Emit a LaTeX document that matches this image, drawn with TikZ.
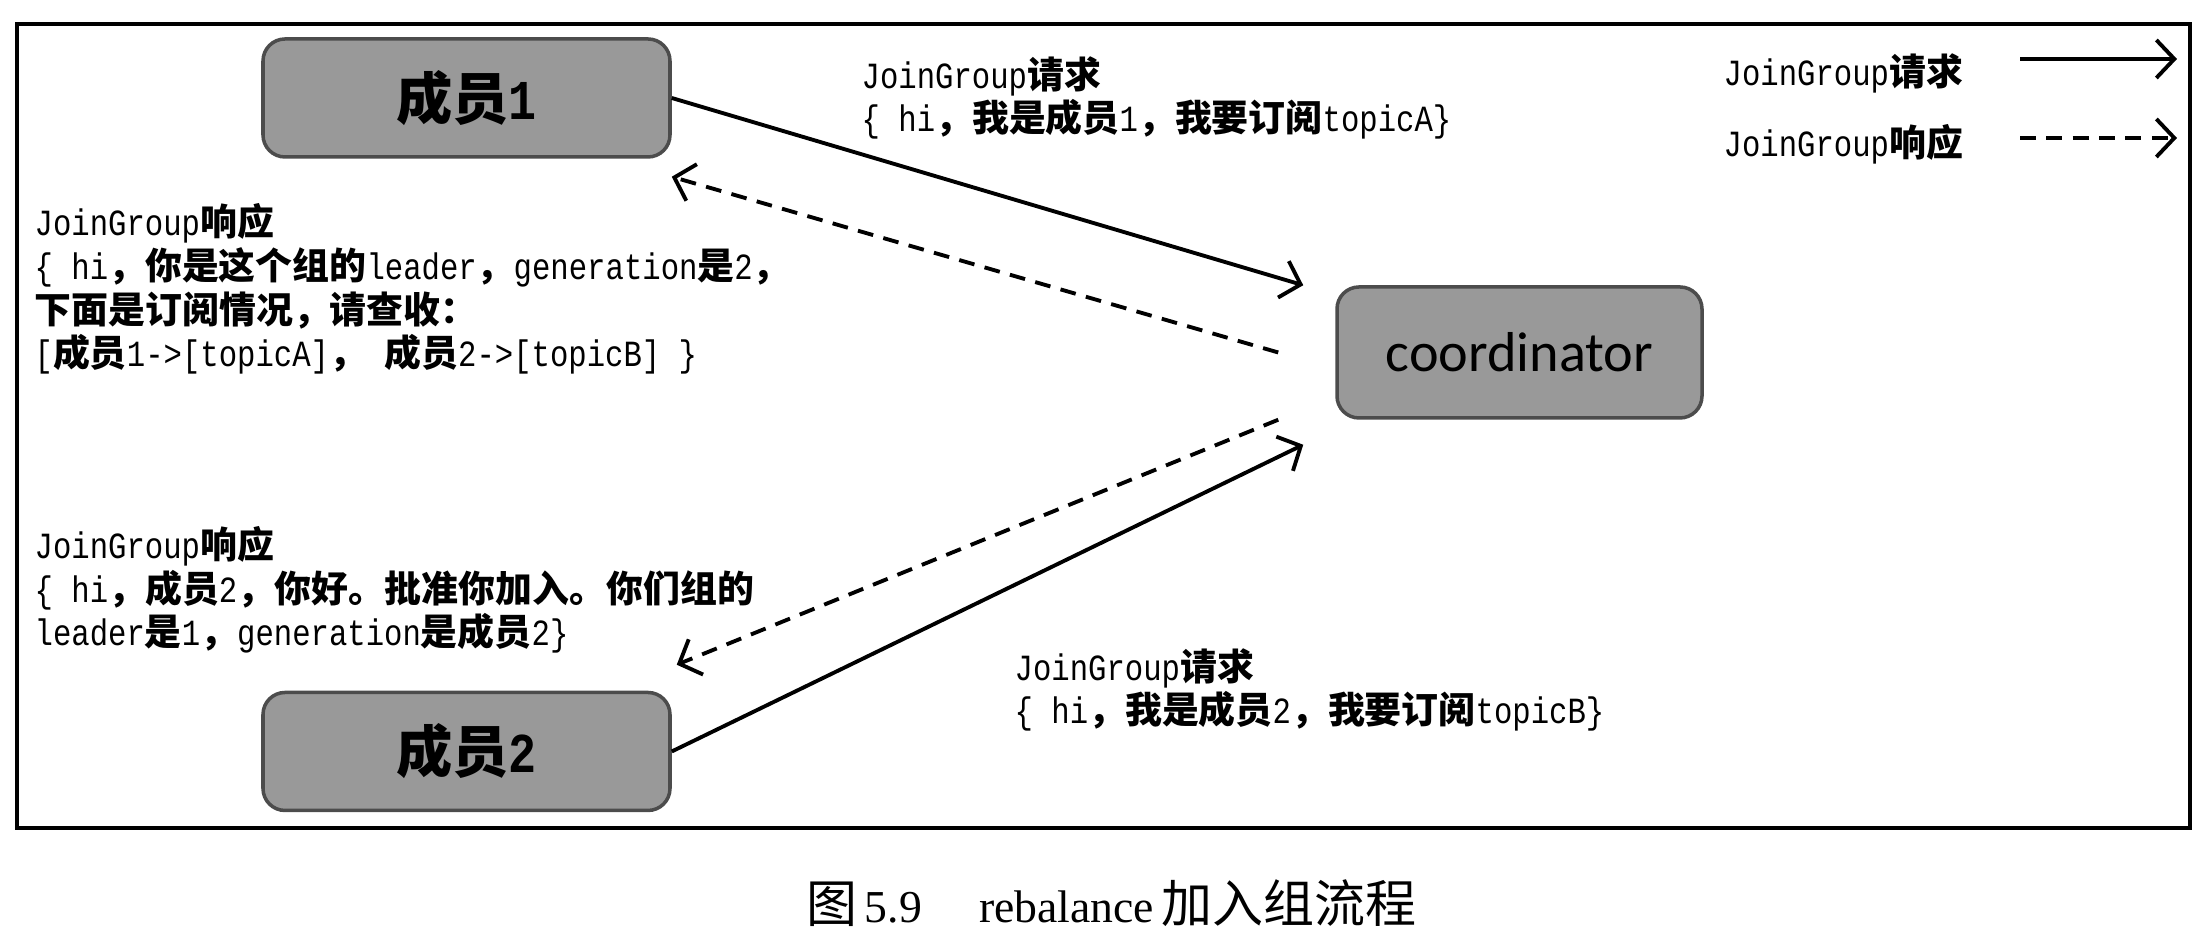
\documentclass[tikz,border=0pt]{standalone}
\usepackage{fontspec}
\usepackage{tikz}
\usetikzlibrary{arrows.meta,positioning}
\setmainfont{Liberation Mono}[FakeStretch=0.83]
\newfontfamily\cjk{Noto Sans CJK SC}
\newfontfamily\calfont{Carlito}
\newfontfamily\serfont{Liberation Serif}
\newcommand{\zh}[1]{{\cjk\bfseries #1}}

\begin{document}
\begin{tikzpicture}[
    box/.style={draw=black!70, fill=black!40, line width=1pt, rounded corners=0.22cm,
        minimum width=4.07cm, minimum height=1.18cm, inner sep=0pt,
        font={\fontsize{16pt}{16pt}\selectfont\bfseries}},
    txt/.style={anchor=base west, align=left, inner sep=0pt,
        font={\fontsize{10.5pt}{12.5pt}\selectfont}},
    req/.style={->, line width=1.1pt},
    resp/.style={->, line width=1.1pt, dash pattern=on 4.5pt off 3pt},
    >={Straight Barb[length=1.8mm,width=3.8mm]}
]

    % Frame
    \useasboundingbox (0,0) rectangle (22.1,9.48);
    \draw[line width=1pt] (0.17,1.2) rectangle (21.9,9.24);

    % Boxes
    \node[box] (m1) at (4.665,8.50) {\zh{成员}1};
    \node[box] (m2) at (4.665,1.965) {\zh{成员}2};
    \node[box, minimum width=3.65cm, minimum height=1.31cm, font={\fontsize{16pt}{16pt}\selectfont}] (co) at (15.195,5.955) {\calfont coordinator};

    % Messages
    \draw[req] (m1.east) -- ([xshift=-0.32cm]co.north west);
    \draw[resp] ([xshift=-0.57cm]co.west) -- ([yshift=-0.18cm]m1.south east);
    \draw[resp] ([xshift=-0.57cm]co.south west) -- ([xshift=0.05cm,yshift=0.26cm]m2.north east);
    \draw[req] (m2.east) -- ([xshift=-0.32cm,yshift=-0.25cm]co.south west);

    % Labels (base = last line)
    \node[txt] (q1) at (8.61,8.16) {JoinGroup\zh{请求}\\\{ hi\zh{，我是成员}1\zh{，我要订阅}topicA\}};
    \node[txt] (p1) at (0.34,5.81) {JoinGroup\zh{响应}\\
        \{ hi\zh{，你是这个组的}leader\zh{，}generation\zh{是}2\zh{，}\\
        \zh{下面是订阅情况，请查收：}\\
        {}[\zh{成员}1->[topicA]\zh{，} \zh{成员}2->[topicB] \}};
    \node[txt] (p2) at (0.34,3.02) {JoinGroup\zh{响应}\\
        \{ hi\zh{，成员}2\zh{，你好。批准你加入。你们组的}\\
        leader\zh{是}1\zh{，}generation\zh{是成员}2\}};
    \node[txt] (q2) at (10.14,2.24) {JoinGroup\zh{请求}\\\{ hi\zh{，我是成员}2\zh{，我要订阅}topicB\}};

    % Legend
    \node[txt] (lq) at (17.23,8.62) {JoinGroup\zh{请求}};
    \node[txt] (lp) at (17.23,7.91) {JoinGroup\zh{响应}};
    \coordinate (lqa) at (20.2,8.89);
    \coordinate (lqb) at (21.77,8.89);
    \coordinate (lpa) at (20.2,8.10);
    \coordinate (lpb) at (21.77,8.10);
    \draw[req] (lqa) -- (lqb);
    \draw[resp] (lpa) -- (lpb);

    % Caption
    \node[font={\serfont\fontsize{13pt}{15pt}\selectfont}] (cap) at (11.115,0.45)
        {{\cjk\fontsize{14.5pt}{15pt}\selectfont 图}\,5.9\quad\ rebalance\,{\cjk\fontsize{14.5pt}{15pt}\selectfont 加入组流程}};

\end{tikzpicture}
\end{document}
